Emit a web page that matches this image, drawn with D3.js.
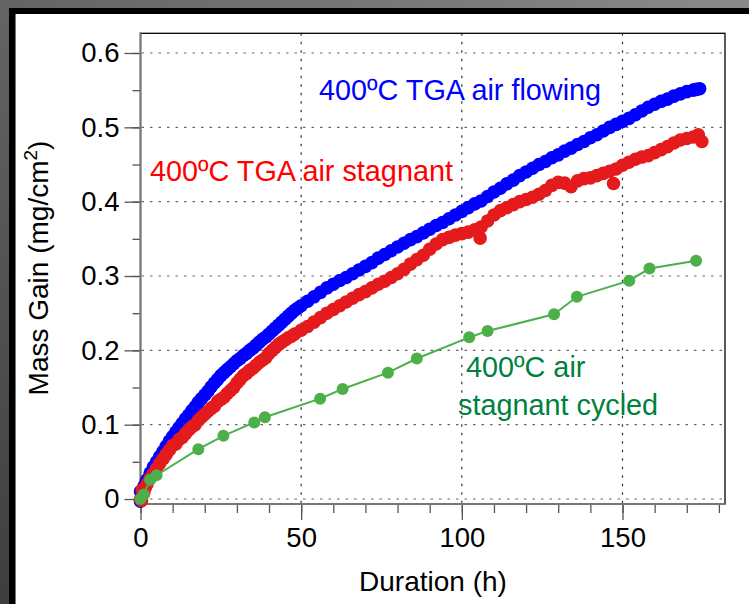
<!DOCTYPE html>
<html><head><meta charset="utf-8">
<script src="https://cdn.jsdelivr.net/npm/d3@7"></script>
<style>html,body{margin:0;padding:0;background:#fff;}svg{display:block;}</style>
</head><body>
<script>
// ---- data ----
const xMajorTicks = [0, 50, 100, 150];
const yMajorTicks = [0, 0.1, 0.2, 0.3, 0.4, 0.5, 0.6];
const yTickLabels = ["0", "0.1", "0.2", "0.3", "0.4", "0.5", "0.6"];

// 400ºC TGA air flowing: [hours, mg/cm2]
const flowing = [[0,-0.003],[0,0.01],[0.5,0.008],[1,0.016],[1.5,0.02],[2,0.026],[3,0.035],[4,0.043],[5,0.05],[6,0.057],[7,0.064],[8,0.071],[9,0.078],[10,0.084],[11,0.09],[12,0.096],[13,0.102],[14,0.108],[15,0.113],[16,0.119],[17,0.124],[18,0.13],[19,0.135],[20,0.14],[21,0.145],[22,0.151],[23,0.156],[24,0.161],[25,0.166],[26,0.17],[27,0.174],[28,0.178],[29,0.182],[30,0.186],[31,0.189],[32,0.193],[33,0.196],[34,0.2],[35,0.203],[36,0.207],[37,0.211],[38,0.215],[39,0.218],[40,0.222],[41,0.226],[42,0.23],[43,0.234],[44,0.238],[45,0.242],[46,0.246],[47,0.25],[48,0.254],[49,0.257],[50,0.26],[52,0.266],[54,0.272],[56,0.278],[58,0.284],[60,0.289],[62,0.294],[64,0.298],[66,0.303],[68,0.308],[70,0.313],[72,0.318],[74,0.324],[76,0.329],[78,0.334],[80,0.339],[82,0.344],[84,0.349],[86,0.353],[88,0.358],[90,0.363],[92,0.368],[94,0.372],[96,0.377],[98,0.382],[100,0.387],[102,0.392],[104,0.397],[106,0.401],[108,0.407],[110,0.413],[112,0.418],[114,0.424],[116,0.429],[118,0.435],[120,0.44],[122,0.445],[124,0.45],[126,0.454],[128,0.459],[130,0.463],[132,0.468],[134,0.472],[136,0.477],[138,0.481],[140,0.486],[142,0.49],[144,0.495],[146,0.5],[148,0.504],[150,0.508],[152,0.512],[154,0.517],[156,0.522],[158,0.527],[160,0.531],[162,0.535],[164,0.538],[166,0.542],[168,0.545],[170,0.548],[172,0.55],[173,0.551],[174,0.552]];

// 400ºC TGA air stagnant
const stagnant = [[0,0.0],[0.3,-0.002],[0.5,0.012],[1,0.008],[1.5,0.015],[2,0.02],[3,0.028],[4,0.034],[5,0.041],[6,0.048],[7,0.054],[8,0.06],[9,0.066],[10,0.072],[11,0.074],[12,0.08],[13,0.083],[14,0.088],[15,0.093],[16,0.097],[17,0.1],[18,0.106],[19,0.11],[20,0.114],[21,0.118],[22,0.122],[23,0.125],[24,0.131],[25,0.134],[26,0.137],[27,0.142],[28,0.146],[29,0.15],[30,0.156],[31,0.161],[32,0.166],[33,0.169],[34,0.173],[35,0.176],[36,0.18],[37,0.184],[38,0.187],[39,0.19],[40,0.196],[41,0.2],[42,0.204],[43,0.208],[44,0.211],[45,0.214],[46,0.217],[47,0.219],[48,0.222],[50,0.227],[52,0.232],[54,0.238],[56,0.244],[58,0.25],[60,0.255],[62,0.26],[64,0.265],[66,0.27],[68,0.275],[70,0.279],[72,0.284],[74,0.289],[76,0.293],[78,0.298],[80,0.303],[82,0.309],[84,0.316],[86,0.322],[88,0.328],[90,0.336],[92,0.343],[94,0.349],[96,0.352],[98,0.355],[100,0.357],[102,0.359],[104,0.362],[105.7,0.351],[106,0.366],[108,0.374],[110,0.382],[112,0.388],[114,0.392],[116,0.396],[118,0.4],[120,0.403],[122,0.406],[124,0.41],[126,0.415],[128,0.422],[130,0.426],[132,0.425],[134,0.42],[136,0.428],[138,0.431],[140,0.432],[142,0.435],[144,0.438],[146,0.441],[147.2,0.4245],[148,0.444],[150,0.449],[152,0.453],[154,0.457],[156,0.46],[158,0.462],[160,0.466],[162,0.47],[164,0.474],[166,0.479],[168,0.483],[170,0.485],[172,0.487],[173.6,0.49],[174.7,0.481]];

// 400ºC air stagnant cycled
const cycled = [[0,0.0],[1,0.006],[3,0.026],[5,0.032],[18,0.067],[25.8,0.085],[35.4,0.103],[38.7,0.11],[55.9,0.135],[62.9,0.148],[77,0.17],[86,0.189],[102.3,0.2175],[108,0.226],[128.7,0.2485],[135.8,0.272],[152.1,0.2937],[158.4,0.31],[172.9,0.3206]];

const W = 749, H = 604;
const svg = d3.select("body").append("svg").attr("width", W).attr("height", H);

// outer frame
const defs = svg.append("defs");
const grad = defs.append("linearGradient").attr("id","bg").attr("x1","1").attr("y1","0").attr("x2","0").attr("y2","1");
grad.append("stop").attr("offset","0").attr("stop-color","#8a8a8a");
grad.append("stop").attr("offset","1").attr("stop-color","#3e3e3e");
svg.append("rect").attr("width",W).attr("height",H).attr("fill","url(#bg)");
svg.append("rect").attr("x",9).attr("y",8).attr("width",W-9).attr("height",H-8).attr("fill","#000");
svg.append("rect").attr("x",15).attr("y",14).attr("width",W-15).attr("height",H-14).attr("fill","#fff");
svg.append("line").attr("x1",15.5).attr("x2",15.5).attr("y1",14).attr("y2",H).attr("stroke","#777").attr("stroke-width",1);

const L = 140.5, R = 725, T = 33.3, B = 504;
const x = d3.scaleLinear().domain([0, 181.9]).range([L, R]);
const y = d3.scaleLinear().domain([-0.0067, 0.6265]).range([B, T]);

const FONT = "'Liberation Sans', Arial, Helvetica, sans-serif";

// grid
const grid = svg.append("g");
grid.selectAll("line.h").data(yMajorTicks).join("line")
  .attr("x1", L + 1).attr("x2", R).attr("y1", d => y(d)).attr("y2", d => y(d))
  .attr("stroke", "#666").attr("stroke-width", 1.2).attr("stroke-dasharray", "2.5,6");
grid.selectAll("line.v").data(xMajorTicks.filter(d => d > 0)).join("line")
  .attr("x1", d => x(d)).attr("x2", d => x(d)).attr("y1", T).attr("y2", B)
  .attr("stroke", "#333").attr("stroke-width", 1.2).attr("stroke-dasharray", "2.5,6");

// frame
svg.append("rect").attr("x", L).attr("y", T).attr("width", R - L).attr("height", B - T)
  .attr("fill", "none").attr("stroke", "#000").attr("stroke-width", 1.3);

// axes
const yMinor = d3.range(0, 0.61, 0.05);
const xMinor = d3.range(0, 181, 10);
const axY = svg.append("g").attr("transform", `translate(${L},0)`);
axY.call(d3.axisLeft(y).tickValues(yMinor).tickSize(8).tickFormat(""));
axY.append("g").call(d3.axisLeft(y).tickValues(yMajorTicks).tickSize(16).tickPadding(5)
  .tickFormat((d, i) => yTickLabels[i]));
const axX = svg.append("g").attr("transform", `translate(0,${B})`);
axX.call(d3.axisBottom(x).tickValues(xMinor).tickSize(9).tickFormat(""));
axX.append("g").call(d3.axisBottom(x).tickValues(xMajorTicks).tickSize(16).tickPadding(7)
  .tickFormat(d3.format("d")));
svg.selectAll(".domain").remove();
svg.selectAll(".tick line").attr("stroke", "#555").attr("stroke-width", 1.3);
svg.selectAll(".tick text").attr("font-family", FONT).attr("font-size", 27.5).attr("fill", "#000");
// axis lines (gray)
svg.append("line").attr("x1", L).attr("x2", L).attr("y1", T - 1).attr("y2", B + 4)
  .attr("stroke", "#777").attr("stroke-width", 2);
svg.append("line").attr("x1", L).attr("x2", R).attr("y1", B).attr("y2", B)
  .attr("stroke", "#777").attr("stroke-width", 2);

// series
const plot = svg.append("g");
plot.selectAll("circle.b").data(flowing).join("circle")
  .attr("cx", d => x(d[0])).attr("cy", d => y(d[1])).attr("r", 6.8).attr("fill", "#0000ff");
plot.selectAll("circle.r").data(stagnant).join("circle")
  .attr("cx", d => x(d[0])).attr("cy", d => y(d[1])).attr("r", 6.8).attr("fill", "#e41a1c");
plot.append("path").datum(cycled)
  .attr("d", d3.line().x(d => x(d[0])).y(d => y(d[1])))
  .attr("fill", "none").attr("stroke", "#4daf4a").attr("stroke-width", 2);
plot.selectAll("circle.g").data(cycled).join("circle")
  .attr("cx", d => x(d[0])).attr("cy", d => y(d[1])).attr("r", 6).attr("fill", "#4daf4a");

// annotations
const ann = svg.append("g").attr("font-family", FONT).attr("font-size", 28.8);
ann.append("text").attr("x", 319).attr("y", 100).attr("fill", "#0000ff").text("400ºC TGA air flowing");
ann.append("text").attr("x", 150).attr("y", 181).attr("fill", "#ff0000").text("400ºC TGA air stagnant");
ann.append("text").attr("x", 466).attr("y", 377).attr("fill", "#008040").text("400ºC air");
ann.append("text").attr("x", 458).attr("y", 415).attr("fill", "#008040").text("stagnant cycled");

// axis titles
svg.append("text").attr("x", 433).attr("y", 591).attr("text-anchor", "middle")
  .attr("font-family", FONT).attr("font-size", 28).text("Duration (h)");
const yt = svg.append("text").attr("transform", "translate(48,268) rotate(-90)")
  .attr("text-anchor", "middle").attr("font-family", FONT).attr("font-size", 28);
yt.append("tspan").text("Mass Gain (mg/cm");
yt.append("tspan").attr("dy", -11).attr("font-size", 19).text("2");
yt.append("tspan").attr("dy", 11).text(")");
</script>
</body></html>
